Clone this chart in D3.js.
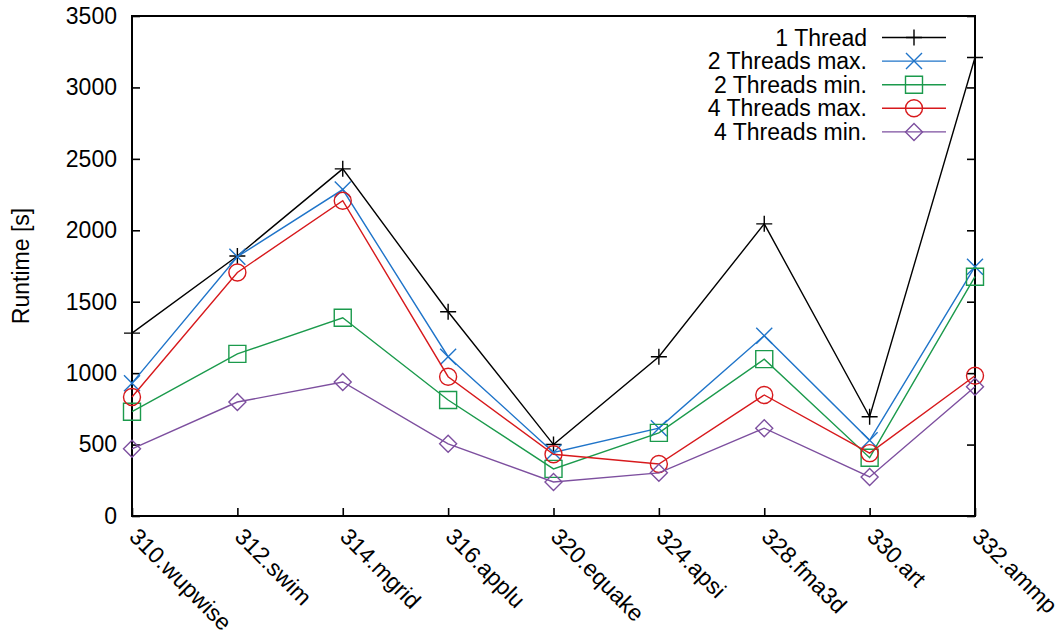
<!DOCTYPE html>
<html>
<head>
<meta charset="utf-8">
<script src="https://cdn.jsdelivr.net/npm/d3@7"></script>
<style>
  html, body { margin: 0; padding: 0; background: #fff; }
  svg { display: block; font-family: "Liberation Sans", Arial, sans-serif; }
</style>
</head>
<body>
<svg id="chart" width="1059" height="633"></svg>
<script>
// Benchmarks on the x axis
const categories = ["310.wupwise", "312.swim", "314.mgrid", "316.applu", "320.equake",
                    "324.apsi", "328.fma3d", "330.art", "332.ammp"];

// Runtime in seconds per configuration
const oneThread   = [1280, 1820, 2430, 1430, 500, 1115, 2045, 695, 3210];
const twoThreadsMax = [930, 1815, 2285, 1115, 445, 615, 1262, 530, 1745];
const twoThreadsMin = [730, 1135, 1388, 812, 330, 582, 1098, 408, 1675];
const fourThreadsMax = [833, 1705, 2207, 975, 432, 364, 847, 440, 982];
const fourThreadsMin = [470, 798, 938, 505, 238, 302, 615, 273, 905];

const seriesNames = ["1 Thread", "2 Threads max.", "2 Threads min.", "4 Threads max.", "4 Threads min."];
const yTicks = [0, 500, 1000, 1500, 2000, 2500, 3000, 3500];
const yLabel = "Runtime [s]";

const series = [
  { name: seriesNames[0], values: oneThread,      color: "#000000", marker: "plus" },
  { name: seriesNames[1], values: twoThreadsMax,  color: "#1f74c9", marker: "cross" },
  { name: seriesNames[2], values: twoThreadsMin,  color: "#1b9a4c", marker: "square" },
  { name: seriesNames[3], values: fourThreadsMax, color: "#d7191c", marker: "circle" },
  { name: seriesNames[4], values: fourThreadsMin, color: "#7d4f9f", marker: "diamond" }
];

const svg = d3.select("#chart");
const plotLeft = 132, plotRight = 975, plotTop = 16, plotBottom = 516;
const fontSize = 23;

const x = d3.scalePoint().domain(categories).range([plotLeft, plotRight]);
const y = d3.scaleLinear().domain([0, 3500]).range([plotBottom, plotTop]);

// Axes with inward ticks
const gl = svg.append("g").attr("transform", `translate(${plotLeft},0)`)
  .call(d3.axisLeft(y).tickValues(yTicks).tickFormat(d3.format("d"))
    .tickSizeInner(-8).tickSizeOuter(0).tickPadding(15));
const gr = svg.append("g").attr("transform", `translate(${plotRight},0)`)
  .call(d3.axisRight(y).tickValues(yTicks).tickSizeInner(-8).tickSizeOuter(0).tickFormat(""));
const gb = svg.append("g").attr("transform", `translate(0,${plotBottom})`)
  .call(d3.axisBottom(x).tickSizeInner(-8).tickSizeOuter(0).tickFormat(""));

[gl, gr, gb].forEach(g => {
  g.select(".domain").remove();
  g.selectAll(".tick line").attr("stroke", "#000").attr("stroke-width", 1.6);
});
gl.selectAll(".tick text")
  .attr("fill", "#000")
  .style("font-size", fontSize + "px")
  .style("font-family", "'Liberation Sans', Arial, sans-serif");

// Rotated category labels
svg.append("g").selectAll("text")
  .data(categories)
  .join("text")
  .attr("transform", d => `translate(${x(d) - 4},${plotBottom + 22}) rotate(45)`)
  .attr("text-anchor", "start")
  .attr("fill", "#000")
  .style("font-size", fontSize + "px")
  .text(d => d);

// Frame
svg.append("rect")
  .attr("x", plotLeft).attr("y", plotTop)
  .attr("width", plotRight - plotLeft).attr("height", plotBottom - plotTop)
  .attr("fill", "none").attr("stroke", "#000").attr("stroke-width", 2);

// Y axis title
svg.append("text")
  .attr("transform", `translate(29,${(plotTop + plotBottom) / 2}) rotate(-90)`)
  .attr("text-anchor", "middle")
  .attr("fill", "#000")
  .style("font-size", fontSize + "px")
  .text(yLabel);

// Marker shapes
function markerPath(type) {
  const h = 8, s = 8.5;
  switch (type) {
    case "plus": return `M${-h},0H${h}M0,${-h}V${h}`;
    case "cross": return `M${-h},${-h}L${h},${h}M${-h},${h}L${h},${-h}`;
    case "square": return `M${-s},${-s}H${s}V${s}H${-s}Z`;
    case "diamond": return `M0,${-s}L${s},0L0,${s}L${-s},0Z`;
    case "circle": return `M${s},0A${s},${s} 0 1,1 ${-s},0A${s},${s} 0 1,1 ${s},0Z`;
  }
}

const line = d3.line().x((d, i) => x(categories[i])).y(d => y(d));

const plot = svg.append("g");
series.forEach(s => {
  const g = plot.append("g");
  g.append("path")
    .attr("d", line(s.values))
    .attr("fill", "none")
    .attr("stroke", s.color)
    .attr("stroke-width", 1.4);
  g.selectAll("path.m")
    .data(s.values)
    .join("path")
    .attr("class", "m")
    .attr("transform", (d, i) => `translate(${x(categories[i])},${y(d)})`)
    .attr("d", markerPath(s.marker))
    .attr("fill", "none")
    .attr("stroke", s.color)
    .attr("stroke-width", 1.4);
});

// Legend
const legend = svg.append("g");
series.forEach((s, i) => {
  const cy = 37.5 + i * 23.6;
  legend.append("text")
    .attr("x", 867).attr("y", cy)
    .attr("dy", "0.35em")
    .attr("text-anchor", "end")
    .attr("fill", "#000")
    .style("font-size", fontSize + "px")
    .text(s.name);
  legend.append("line")
    .attr("x1", 882).attr("x2", 946)
    .attr("y1", cy).attr("y2", cy)
    .attr("stroke", s.color).attr("stroke-width", 1.4);
  legend.append("path")
    .attr("transform", `translate(914,${cy})`)
    .attr("d", markerPath(s.marker))
    .attr("fill", "none")
    .attr("stroke", s.color)
    .attr("stroke-width", 1.4);
});
</script>
</body>
</html>
